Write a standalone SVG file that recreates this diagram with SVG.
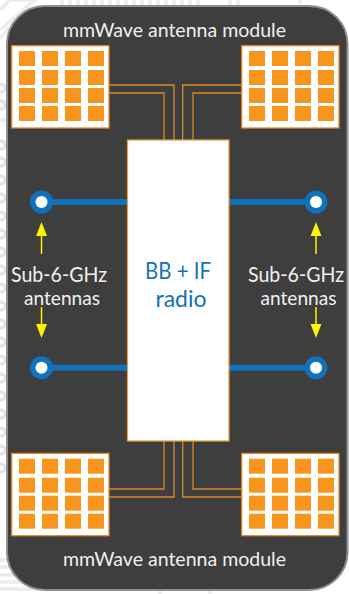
<svg xmlns="http://www.w3.org/2000/svg" width="349" height="594" viewBox="0 0 349 594">
<style>
.bg{fill:none;stroke:#ececed;stroke-width:3.500}
.m{fill:#fff;stroke:#e08a24;stroke-width:1.300}
.s{fill:#f8951d}
.w{fill:none;stroke:#d98a2b;stroke-width:1.300}
.b{stroke:#0f72ba;stroke-width:6;fill:none}
.o{fill:#0f72ba}
.i{fill:#fff}
.y{stroke:#fff200;stroke-width:1.500}
.h{fill:#fff200}
text{font-family:"Lato","Noto Sans",sans-serif;text-anchor:middle;font-weight:400}
.t{fill:#f0f0f0}
.r{fill:#0f72ba}
.c{fill:none;stroke:#e2e2e4;stroke-width:3}
</style>
<defs>
<g id="grid">
<rect class="m" x="0" y="0" width="97.300" height="82.300"/>
<rect class="s" x="7.300" y="5.300" width="16" height="15"/><rect class="s" x="30.300" y="5.300" width="16" height="15"/><rect class="s" x="53.300" y="5.300" width="16" height="15"/><rect class="s" x="76.300" y="5.300" width="16" height="15"/>
<rect class="s" x="7.300" y="24.300" width="16" height="15"/><rect class="s" x="30.300" y="24.300" width="16" height="15"/><rect class="s" x="53.300" y="24.300" width="16" height="15"/><rect class="s" x="76.300" y="24.300" width="16" height="15"/>
<rect class="s" x="7.300" y="42.300" width="16" height="15"/><rect class="s" x="30.300" y="42.300" width="16" height="15"/><rect class="s" x="53.300" y="42.300" width="16" height="15"/><rect class="s" x="76.300" y="42.300" width="16" height="15"/>
<rect class="s" x="7.300" y="60.300" width="16" height="15"/><rect class="s" x="30.300" y="60.300" width="16" height="15"/><rect class="s" x="53.300" y="60.300" width="16" height="15"/><rect class="s" x="76.300" y="60.300" width="16" height="15"/>
</g>
</defs>
<rect width="349" height="594" fill="#fff"/>
<path class="bg" d="M62 0V5M70 0V5M78 0V5M86 0V5M94 0V5M102 0V5M110 0V5M118 0V5M126 0V5M134 0V5M142 0V5M150 0V5M158 0V5M166 0V5M174 0V5M182 0V5M190 0V5M198 0V5M230 0V5M238 0V5M300 0V4M0 10L10 0H35L0 30M0 38L9 28M0 120H6M0 560H12M0 567H14M0 575H20M0 582H30M0 589H40M160 591V594M210 591V594"/>
<g class="c">
<circle cx="1" cy="88" r="4"/><circle cx="1" cy="105" r="4"/><circle cx="1" cy="145" r="4"/><circle cx="1" cy="162" r="4"/><circle cx="1" cy="180" r="4"/><circle cx="1" cy="198" r="4"/><circle cx="1" cy="216" r="4"/><circle cx="1" cy="234" r="4"/><circle cx="1" cy="252" r="4"/><circle cx="1" cy="270" r="4"/><circle cx="1" cy="288" r="4"/><circle cx="1" cy="306" r="4"/><circle cx="1" cy="324" r="4"/><circle cx="1" cy="342" r="4"/><circle cx="1" cy="360" r="4"/><circle cx="1" cy="378" r="4"/><circle cx="1" cy="396" r="4"/><circle cx="1" cy="414" r="4"/><circle cx="1" cy="432" r="4"/><circle cx="1" cy="450" r="4"/><circle cx="1" cy="468" r="4"/>
</g>
<rect x="7" y="6" width="340.500" height="584" rx="38" ry="38" fill="#3e3e3f" stroke="#8e8e92" stroke-width="2"/>
<g id="connectors">
<path class="w" d="M109 85H174V140M109 93H164V140M242 85H182.700V140M242 93H193V140M109 497H174V441M109 489H164V441M242 497H182.700V441M242 489H193V441"/>
<path class="b" d="M41.500 202H127.500M41.500 367.700H127.500M229 202H316M229 367.700H316"/>
<path class="y" d="M41.500 234V254M41.500 307V327M316 234V254M316 307V327"/>
<path class="h" d="M41.500 222L36 236H47ZM41.500 338L36 324H47ZM316 222L310.500 236H321.500ZM316 338L310.500 324H321.500Z"/>
</g>
<g id="module-tl"><use href="#grid" x="11.700" y="45.700"/></g>
<g id="module-tr"><use href="#grid" x="241.700" y="45.700"/></g>
<g id="module-bl"><use href="#grid" x="11.700" y="453.400"/></g>
<g id="module-br"><use href="#grid" x="241.700" y="453.400"/></g>
<g id="radio">
<rect x="127.500" y="140" width="101.500" height="301" fill="#fff" stroke="#e89a3c" stroke-width="1.300"/>
<text class="r" x="178" y="279" font-size="24" textLength="66" lengthAdjust="spacingAndGlyphs">BB + IF</text>
<text class="r" x="181" y="307" font-size="24" textLength="51" lengthAdjust="spacingAndGlyphs">radio</text>
</g>
<g id="ant-tl"><circle class="o" cx="41.500" cy="202" r="11.500"/><circle class="i" cx="41.500" cy="202" r="6"/></g>
<g id="ant-bl"><circle class="o" cx="41.500" cy="367.700" r="11.500"/><circle class="i" cx="41.500" cy="367.700" r="6"/></g>
<g id="ant-tr"><circle class="o" cx="316" cy="202" r="11.500"/><circle class="i" cx="316" cy="202" r="6"/></g>
<g id="ant-br"><circle class="o" cx="316" cy="367.700" r="11.500"/><circle class="i" cx="316" cy="367.700" r="6"/></g>
<g id="labels">
<text class="t" x="174.500" y="37" font-size="20" textLength="223" lengthAdjust="spacingAndGlyphs">mmWave antenna module</text>
<text class="t" x="174.500" y="566" font-size="20" textLength="223" lengthAdjust="spacingAndGlyphs">mmWave antenna module</text>
<text class="t" x="59" y="281.500" font-size="21" textLength="96" lengthAdjust="spacingAndGlyphs">Sub-6-GHz</text>
<text class="t" x="62" y="305" font-size="20" textLength="76" lengthAdjust="spacingAndGlyphs">antennas</text>
<text class="t" x="296" y="281.500" font-size="21" textLength="96" lengthAdjust="spacingAndGlyphs">Sub-6-GHz</text>
<text class="t" x="298.500" y="305" font-size="20" textLength="76" lengthAdjust="spacingAndGlyphs">antennas</text>
</g>
</svg>
